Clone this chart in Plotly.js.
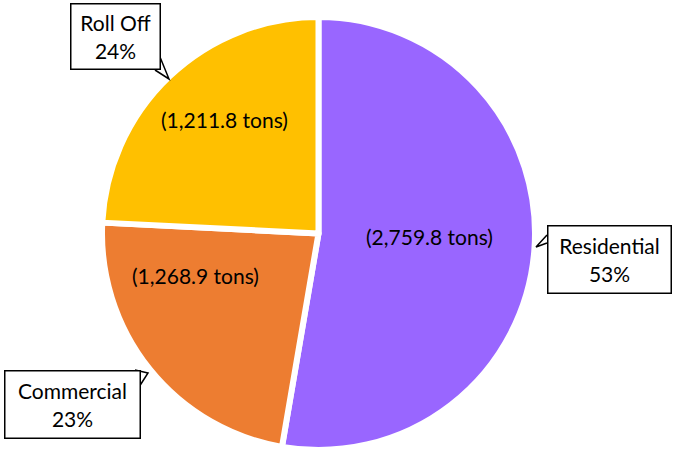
<!DOCTYPE html>
<html>
<head>
<meta charset="utf-8">
<script src="https://cdn.plot.ly/plotly-3.0.1.min.js"></script>
<style>html,body{margin:0;padding:0;background:#fff}#chart{width:673px;height:450px}</style>
</head>
<body>
<div id="chart"></div>
<script>
var categories = ["Residential", "Commercial", "Roll Off"];
var shares = [52.7, 23.1, 24.2];          // slice sizes as drawn
var percentLabels = [53, 23, 24];          // percentages printed in callouts
var tons = ["2,759.8", "1,268.9", "1,211.8"];
var colors = ["#9966FF", "#ED7D31", "#FFC000"];

var W = 673, H = 450;
function px(x) { return x / W; }
function py(y) { return 1 - y / H; }

var FONT = "Lato, 'Open Sans', sans-serif";
var FS = 21;

var trace = {
  type: "pie",
  values: shares,
  labels: categories,
  textinfo: "none",
  sort: false,
  direction: "clockwise",
  rotation: 0,
  marker: { colors: colors, line: { color: "#fff", width: 6 } },
  domain: { x: [px(101), px(536)], y: [py(450), py(17)] },
  hoverinfo: "none",
  showlegend: false
};

var inside = [
  { i: 0, cx: 430, cy: 237 },
  { i: 1, cx: 195, cy: 275 },
  { i: 2, cx: 225, cy: 120 }
];

var boxes = [
  { i: 0, cx: 609, cy: 259, w: 124, h: 68 },
  { i: 1, cx: 72, cy: 404, w: 136, h: 68 },
  { i: 2, cx: 115, cy: 37, w: 90, h: 66 }
];

var annotations = inside.map(function (p) {
  return {
    xref: "paper", yref: "paper",
    x: px(p.cx), y: py(p.cy),
    xanchor: "center", yanchor: "middle",
    showarrow: false,
    text: "(" + tons[p.i] + " tons)",
    font: { family: FONT, size: FS, color: "#000" }
  };
}).concat(boxes.map(function (b) {
  return {
    xref: "paper", yref: "paper",
    x: px(b.cx), y: py(b.cy),
    xanchor: "center", yanchor: "middle",
    showarrow: false,
    text: categories[b.i] + "<br>" + percentLabels[b.i] + "%",
    font: { family: FONT, size: FS, color: "#000" },
    bgcolor: "#fff",
    bordercolor: "#000",
    borderwidth: 1.5,
    borderpad: 0,
    width: b.w - 2, height: b.h - 2,
    align: "center"
  };
}));

function wedge(pts) {
  var d = "M" + px(pts[0][0]) + "," + py(pts[0][1]);
  for (var k = 1; k < pts.length; k++) d += " L" + px(pts[k][0]) + "," + py(pts[k][1]);
  return { type: "path", xref: "paper", yref: "paper", path: d,
           line: { color: "#000", width: 1.5 }, layer: "above" };
}

var shapes = [
  wedge([[547, 235], [536, 247], [547, 243]]),
  wedge([[160, 57], [169, 79], [155, 70]]),
  wedge([[139, 387], [148, 373], [135, 370]])
];

var layout = {
  width: W, height: H,
  margin: { l: 0, r: 0, t: 0, b: 0 },
  paper_bgcolor: "#fff",
  annotations: annotations,
  shapes: shapes,
  font: { family: FONT }
};

Plotly.newPlot("chart", [trace], layout, { displayModeBar: false, staticPlot: true });
</script>
</body>
</html>
